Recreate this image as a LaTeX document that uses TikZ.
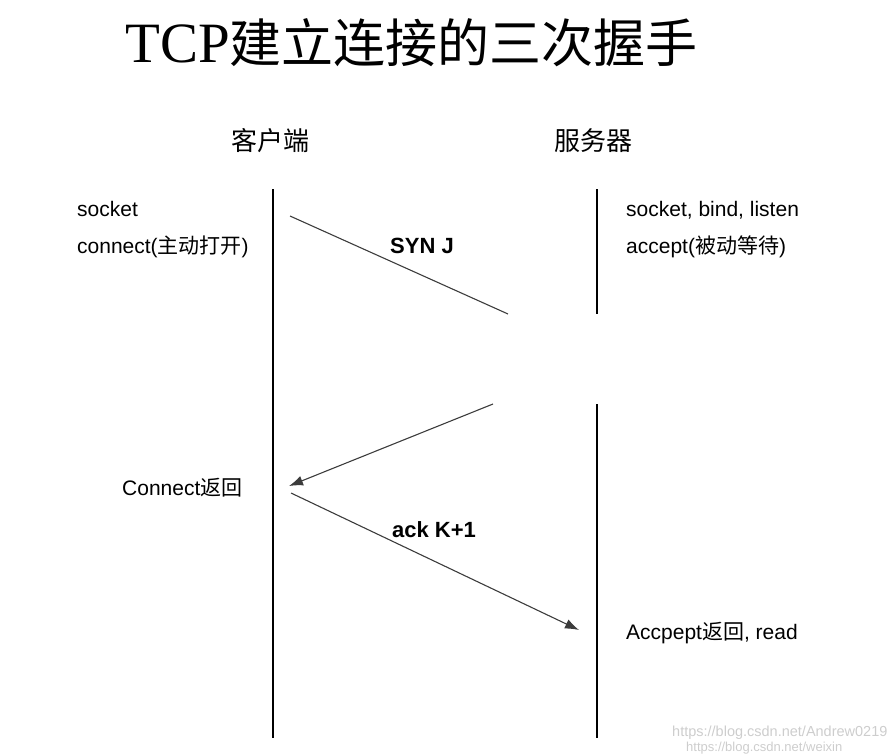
\documentclass[tikz,border=0pt]{standalone}
\usepackage{fontspec}
\usepackage{tikz}
\usetikzlibrary{arrows.meta,calc}
\setmainfont{Liberation Sans}
\newfontfamily\titlefont{Liberation Serif}
\newfontfamily\cjk{Noto Sans CJK SC}
\newcommand{\zh}[1]{{\cjk #1}}
\definecolor{msg_gray}{RGB}{60, 60, 60}
\definecolor{mark_gray}{RGB}{205, 205, 205}
\tikzstyle{none}=[inner sep=0pt,minimum size=0pt]
\tikzstyle{ttl}=[anchor=base west,inner sep=0pt,
  font=\fontsize{57}{60}\selectfont]
\tikzstyle{side}=[anchor=base,inner sep=0pt,
  font=\cjk\fontsize{26}{30}\selectfont]
\tikzstyle{call}=[anchor=base west,inner sep=0pt,
  font=\fontsize{21}{25}\selectfont]
\tikzstyle{seg}=[anchor=base west,inner sep=0pt,
  font=\bfseries\fontsize{22}{26}\selectfont]
\tikzstyle{wmark}=[anchor=base west,inner sep=0pt,text=mark_gray,
  font=\fontsize{14.5}{17}\selectfont]
\tikzstyle{life}=[line width=1.6pt,black]
\tikzstyle{pkt}=[line width=1.1pt,msg_gray,
  -{Latex[length=14pt,width=10pt]}]

\begin{document}
\begin{tikzpicture}[x=1pt,y=-1pt]
            \useasboundingbox (0, 0) rectangle (896, 755);
            \node [style=ttl] (0) at (125, 62) {{\titlefont TCP}\zh{\fontsize{52}{60}\selectfont 建立连接的三次握手}};
            \node [style=side] (1) at (270, 150) {客户端};
            \node [style=side] (2) at (593, 150) {服务器};
            % life lines
            \node [style=none] (3) at (273, 189) {};
            \node [style=none] (4) at (273, 738) {};
            \node [style=none] (5) at (597, 189) {};
            \node [style=none] (6) at (597, 314) {};
            \node [style=none] (7) at (597, 404) {};
            \node [style=none] (8) at (597, 738) {};
            % packet ends
            \node [style=none] (9) at (290, 216) {};
            \node [style=none] (10) at (508, 314) {};
            \node [style=none] (11) at (493, 404) {};
            \node [style=none] (12) at (289, 486) {};
            \node [style=none] (13) at (291, 493) {};
            \node [style=none] (14) at (579, 630) {};
            % calls
            \node [style=call] (15) at (77, 216) {socket};
            \node [style=call] (16) at (77, 253) {connect(\zh{主动打开})};
            \node [style=call] (17) at (626, 216) {socket, bind, listen};
            \node [style=call] (18) at (626, 253) {accept(\zh{被动等待})};
            \node [style=call] (19) at (122, 495) {Connect\zh{返回}};
            \node [style=call] (20) at (626, 639) {Accpept\zh{返回}, read};
            \node [style=seg] (21) at (390, 253) {SYN J};
            \node [style=seg] (22) at (392, 537) {ack K+1};
            \node [style=wmark] (23) at (672, 736) {https://blog.csdn.net/Andrew0219};
            \node [style=wmark, font=\fontsize{13}{15}\selectfont] (24) at (686, 751) {https://blog.csdn.net/weixin};
            \draw [style=life] (3.center) to (4.center);
            \draw [style=life] (5.center) to (6.center);
            \draw [style=life] (7.center) to (8.center);
            \draw [style=pkt, -] (9.center) to (10.center);
            \draw [style=pkt] (11.center) to (12.center);
            \draw [style=pkt] (13.center) to (14.center);
    \end{tikzpicture}
\end{document}
